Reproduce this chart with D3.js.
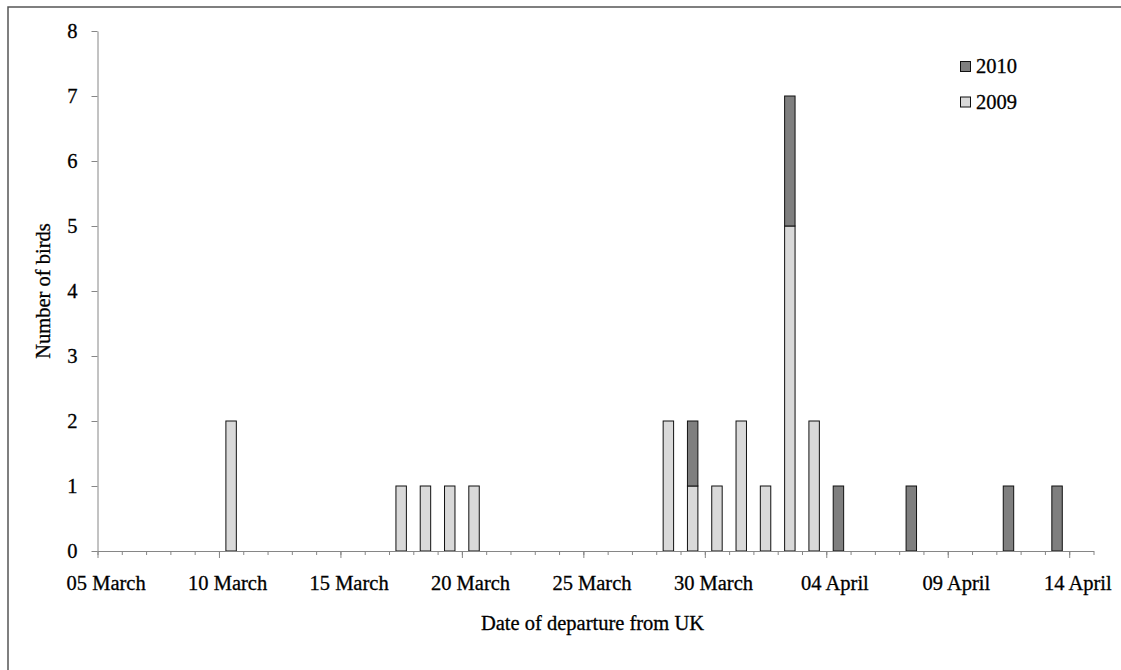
<!DOCTYPE html>
<html>
<head>
<meta charset="utf-8">
<script src="https://cdn.jsdelivr.net/npm/d3@7"></script>
<style>
  html, body { margin: 0; padding: 0; background: #fff; }
  svg { display: block; }
  svg text {
    font-family: "Liberation Serif", Tinos, "Times New Roman", Times, serif;
    fill: #000;
    stroke: #000;
    stroke-width: 0.3px;
  }
</style>
</head>
<body>
<svg id="chart" width="1121" height="670"></svg>
<script>
// Daily categories along the x axis
const categories = [
  "05 March","06 March","07 March","08 March","09 March","10 March","11 March",
  "12 March","13 March","14 March","15 March","16 March","17 March","18 March",
  "19 March","20 March","21 March","22 March","23 March","24 March","25 March",
  "26 March","27 March","28 March","29 March","30 March","31 March","01 April",
  "02 April","03 April","04 April","05 April","06 April","07 April","08 April",
  "09 April","10 April","11 April","12 April","13 April","14 April"
];

// Number of birds departing on each day
const birds2009 = [
  0,0,0,0,0,2,0,0,0,0,0,0,1,1,1,1,0,0,0,0,0,
  0,0,2,1,1,2,1,5,2,0,0,0,0,0,0,0,0,0,0,0
];
const birds2010 = [
  0,0,0,0,0,0,0,0,0,0,0,0,0,0,0,0,0,0,0,0,0,
  0,0,0,1,0,0,0,2,0,1,0,0,1,0,0,0,1,0,1,0
];

const tickLabels = ["05 March","10 March","15 March","20 March","25 March",
                    "30 March","04 April","09 April","14 April"];
const yTicks = [0,1,2,3,4,5,6,7,8];

const seriesKeys = ["2009", "2010"];
const seriesNames = ["2010", "2009"]; // legend order
const colors = { "2009": "#d9d9d9", "2010": "#7f7f7f" };

const FONT = '"Liberation Serif", Tinos, "Times New Roman", Times, serif';
const FONT_SIZE = 20.5;

const svg = d3.select("#chart");

// Outer frame
svg.append("rect")
  .attr("x", 8).attr("y", 7)
  .attr("width", 1300).attr("height", 900)
  .attr("fill", "none").attr("stroke", "#555").attr("stroke-width", 1.5);

const plotLeft = 97.5, plotRight = 1093.5, plotTop = 31, plotBottom = 551;

const x = d3.scaleBand()
  .domain(categories)
  .range([plotLeft, plotRight])
  .paddingInner(0.57)
  .paddingOuter(0.285);

// Day boundaries for tick marks
const xEdge = d3.scaleLinear().domain([0, categories.length]).range([plotLeft, plotRight]);

const y = d3.scaleLinear().domain([0, 8]).range([plotBottom, plotTop]);

// Stacked data
const table = categories.map((c, i) => ({ day: c, "2009": birds2009[i], "2010": birds2010[i] }));
const stacked = d3.stack().keys(seriesKeys)(table);

const bars = svg.append("g");
stacked.forEach(layer => {
  bars.append("g")
    .attr("fill", colors[layer.key])
    .attr("stroke", "#111")
    .attr("stroke-width", 1)
    .selectAll("rect")
    .data(layer.filter(d => d[1] > d[0]))
    .join("rect")
      .attr("x", d => x(d.data.day))
      .attr("width", x.bandwidth())
      .attr("y", d => y(d[1]))
      .attr("height", d => y(d[0]) - y(d[1]));
});

// Y axis
const yAxis = svg.append("g")
  .attr("transform", `translate(${plotLeft},0)`)
  .call(d3.axisLeft(y).tickValues(yTicks).tickFormat(d3.format("d"))
    .tickSizeInner(6).tickSizeOuter(0).tickPadding(14));
yAxis.attr("font-family", FONT).attr("font-size", FONT_SIZE);
yAxis.select(".domain").attr("stroke", "#868686");
yAxis.selectAll(".tick line").attr("stroke", "#868686");
yAxis.selectAll(".tick text").attr("fill", "#000");

// X axis: minor ticks every day, major ticks every five days
const xMinor = svg.append("g")
  .attr("transform", `translate(0,${plotBottom})`)
  .call(d3.axisBottom(xEdge).tickValues(d3.range(0, categories.length + 1))
    .tickFormat("").tickSizeInner(4).tickSizeOuter(0));
xMinor.select(".domain").attr("stroke", "#868686");
xMinor.selectAll(".tick line").attr("stroke", "#868686");

const xMajor = svg.append("g")
  .attr("transform", `translate(0,${plotBottom})`)
  .call(d3.axisBottom(xEdge).tickValues(tickLabels.map(t => categories.indexOf(t)))
    .tickFormat("").tickSizeInner(7).tickSizeOuter(0));
xMajor.select(".domain").remove();
xMajor.selectAll(".tick line").attr("stroke", "#868686");

const labels = svg.append("g").attr("font-family", FONT).attr("font-size", FONT_SIZE);

labels.selectAll("text.xlab")
  .data(tickLabels)
  .join("text")
    .attr("class", "xlab")
    .attr("x", d => x(d) + x.bandwidth() / 2 - 3.5)
    .attr("y", 590)
    .attr("text-anchor", "middle")
    .text(d => d);

// Axis titles
labels.append("text")
  .attr("x", (plotLeft + plotRight) / 2 - 3)
  .attr("y", 630)
  .attr("text-anchor", "middle")
  .text("Date of departure from UK");

labels.append("text")
  .attr("transform", `translate(50,${(plotTop + plotBottom) / 2}) rotate(-90)`)
  .attr("text-anchor", "middle")
  .text("Number of birds");

// Legend
const legend = svg.append("g")
  .attr("font-family", FONT).attr("font-size", FONT_SIZE)
  .attr("transform", "translate(960,61)");
const items = legend.selectAll("g")
  .data(seriesNames)
  .join("g")
    .attr("transform", (d, i) => `translate(0,${i * 35.5})`);
items.append("rect")
  .attr("x", 0.5).attr("y", 0.5)
  .attr("width", 10).attr("height", 10)
  .attr("fill", d => colors[d])
  .attr("stroke", "#111").attr("stroke-width", 1);
items.append("text")
  .attr("x", 16).attr("y", 12)
  .text(d => d);
</script>
</body>
</html>
